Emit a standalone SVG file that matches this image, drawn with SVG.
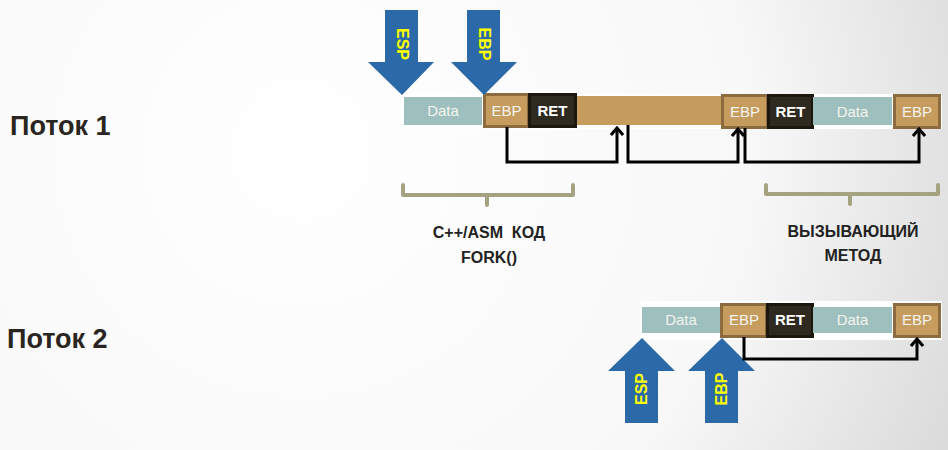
<svg xmlns="http://www.w3.org/2000/svg" width="948" height="450" viewBox="0 0 948 450">
<defs>
<radialGradient id="bg" cx="300" cy="150" r="750" gradientUnits="userSpaceOnUse">
<stop offset="0" stop-color="#ffffff"/>
<stop offset="0.6" stop-color="#f8f8f8"/>
<stop offset="1" stop-color="#d6d6d6"/>
</radialGradient>
<marker id="ah" markerWidth="12" markerHeight="14" refX="10" refY="7" orient="auto" markerUnits="userSpaceOnUse" viewBox="0 0 12 14">
<path d="M3,1 L10,7 L3,13" fill="none" stroke="#000" stroke-width="3"/>
</marker>
<style>
.data{fill:#9dbfbd}
.ebp{fill:#c69c5e;stroke:#8c6c3e;stroke-width:3}
.ret{fill:#2e2a1f;stroke:#1c1810;stroke-width:3}
.bar{fill:#c69c5e}
.lbl{font-family:"Liberation Sans",Arial,sans-serif;font-size:15px;fill:#f4f4f0;text-anchor:middle}
.retl{font-family:"Liberation Sans",Arial,sans-serif;font-size:15px;font-weight:bold;fill:#ffffff;text-anchor:middle}
.arr{fill:#2b69a8}
.reg{font-family:"Liberation Sans",Arial,sans-serif;font-size:16px;font-weight:bold;fill:#ffff00;text-anchor:middle;dominant-baseline:central}
.conn{fill:none;stroke:#000;stroke-width:3}
.brace{fill:none;stroke:#a5a282;stroke-width:4;stroke-linejoin:round;stroke-linecap:round}
.cap{font-family:"Liberation Sans",Arial,sans-serif;font-size:16px;font-weight:bold;fill:#222;text-anchor:middle}
.title{font-family:"Liberation Sans",Arial,sans-serif;font-size:27px;font-weight:bold;fill:#2a2520}
</style>
</defs>
<rect width="948" height="450" fill="url(#bg)"/>

<text class="title" x="10" y="135">Поток 1</text>
<text class="title" x="7" y="348">Поток 2</text>

<g id="row1">
<rect x="402" y="94" width="540" height="35" fill="#ffffff"/>
<g id="r1-data1"><rect class="data" x="404" y="97" width="78" height="28"/><text class="lbl" x="443" y="116">Data</text></g>
<g id="r1-bar"><rect class="bar" x="576" y="96" width="146" height="29"/></g>
<g id="r1-ebp1"><rect class="ebp" x="484.5" y="94.5" width="44" height="32"/><text class="lbl" x="506.5" y="116">EBP</text></g>
<g id="r1-ret1"><rect class="ret" x="529.5" y="94.5" width="46" height="32"/><text class="retl" x="552.5" y="116">RET</text></g>
<g id="r1-ebp2"><rect class="ebp" x="722.5" y="95.5" width="45" height="32"/><text class="lbl" x="745" y="117">EBP</text></g>
<g id="r1-ret2"><rect class="ret" x="768.5" y="95.5" width="44" height="32"/><text class="retl" x="790.5" y="117">RET</text></g>
<g id="r1-data2"><rect class="data" x="813" y="97" width="79" height="28"/><text class="lbl" x="852.5" y="117">Data</text></g>
<g id="r1-ebp3"><rect class="ebp" x="894.5" y="95.5" width="45" height="32"/><text class="lbl" x="917" y="117">EBP</text></g>
</g>

<g id="row2">
<rect x="640" y="301" width="302" height="39" fill="#ffffff"/>
<g id="r2-data1"><rect class="data" x="642" y="307" width="78" height="26"/><text class="lbl" x="681" y="325">Data</text></g>
<g id="r2-ebp1"><rect class="ebp" x="721.5" y="304.5" width="45" height="32"/><text class="lbl" x="744" y="325">EBP</text></g>
<g id="r2-ret1"><rect class="ret" x="767.5" y="304.5" width="45" height="32"/><text class="retl" x="790" y="325">RET</text></g>
<g id="r2-data2"><rect class="data" x="813" y="307" width="79" height="26"/><text class="lbl" x="852.5" y="325">Data</text></g>
<g id="r2-ebp2"><rect class="ebp" x="894.5" y="304.5" width="45" height="32"/><text class="lbl" x="917" y="325">EBP</text></g>
</g>

<g id="pointer-esp1"><polygon class="arr" points="385,10 418,10 418,62 434,62 402,95 368,62 385,62"/><text class="reg" transform="translate(402,44) rotate(90)">ESP</text></g>
<g id="pointer-ebp1"><polygon class="arr" points="467,10 500,10 500,62 517,62 484,95 451,62 467,62"/><text class="reg" transform="translate(484,44) rotate(90)">EBP</text></g>
<g id="pointer-esp2"><polygon class="arr" points="642,338 675,371 658,371 658,423 625,423 625,371 608,371"/><text class="reg" transform="translate(641,389) rotate(-90)">ESP</text></g>
<g id="pointer-ebp2"><polygon class="arr" points="722,338 755,371 738,371 738,423 705,423 705,371 688,371"/><text class="reg" transform="translate(721,389) rotate(-90)">EBP</text></g>

<g id="connectors">
<path class="conn" d="M507,127 V162 H617 V128" marker-end="url(#ah)"/>
<path class="conn" d="M628,125 V162 H738 V129" marker-end="url(#ah)"/>
<path class="conn" d="M745,128 V162 H919 V129" marker-end="url(#ah)"/>
<path class="conn" d="M744,337 V359 H917 V339" marker-end="url(#ah)"/>
</g>

<g id="brace-asm">
<path class="brace" d="M403,185 V195 H573 V185 M487,195 V205"/>
<text class="cap" x="489" y="238">C++/ASM&#160; КОД</text>
<text class="cap" x="489" y="263">FORK()</text>
</g>
<g id="brace-caller">
<path class="brace" d="M766,185 V194 H938 V185 M850,194 V204"/>
<text class="cap" x="853" y="237">ВЫЗЫВАЮЩИЙ</text>
<text class="cap" x="853" y="261">МЕТОД</text>
</g>
</svg>
